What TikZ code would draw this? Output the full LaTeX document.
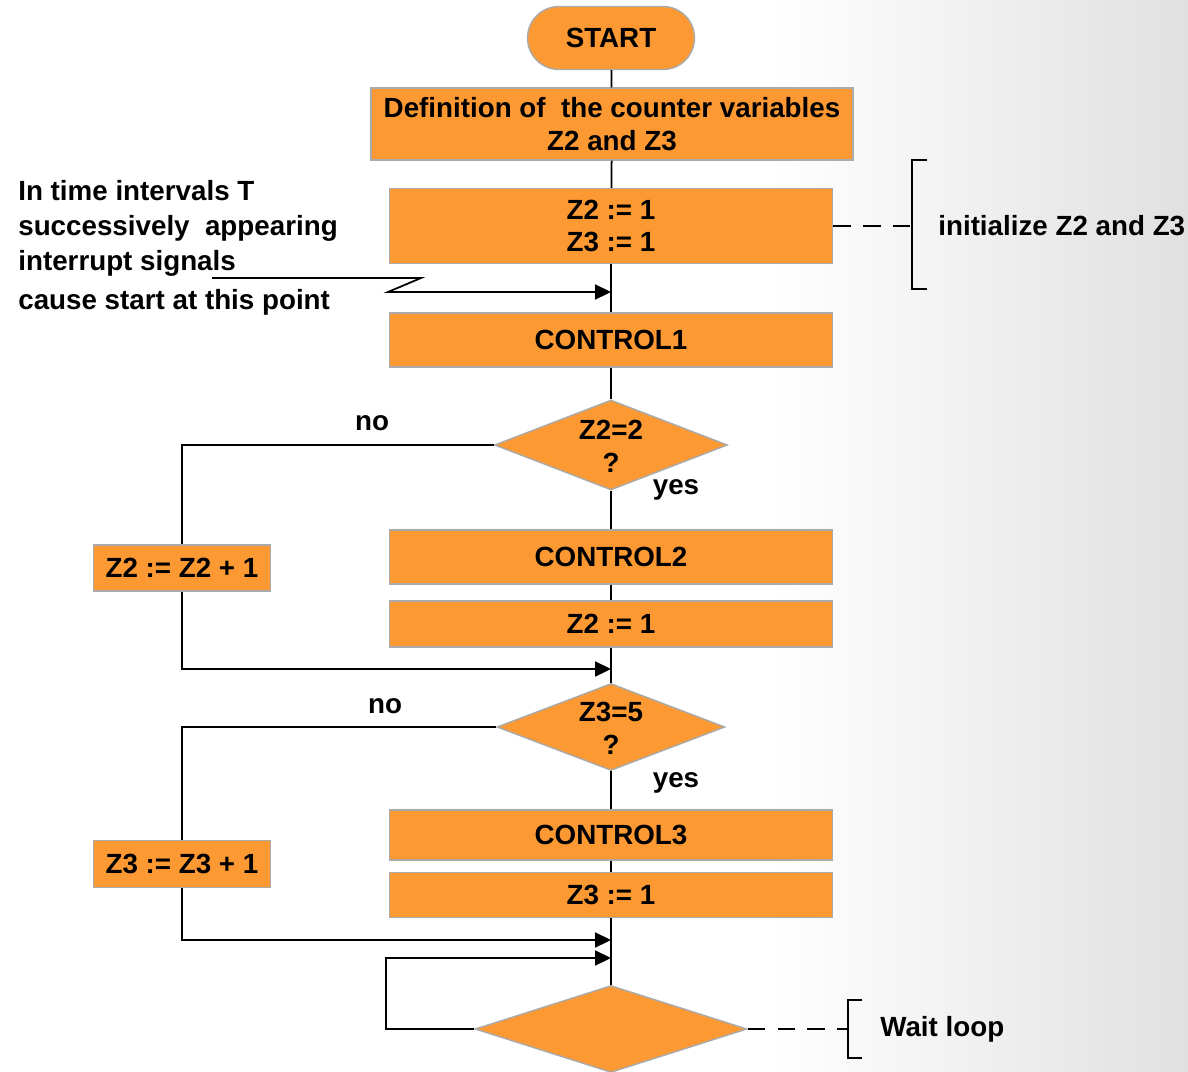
\documentclass[tikz,border=0pt]{standalone}
\usepackage{fontspec}
\setmainfont{Liberation Sans}
\usetikzlibrary{shapes.geometric,arrows.meta}
\definecolor{boxorange}{RGB}{253,153,51}
\definecolor{boxedge}{RGB}{170,170,170}
\tikzset{
  box/.style={draw=boxedge, fill=boxorange, line width=0.8pt, inner sep=0pt,
    align=center, minimum width=8.86cm},
  sidebox/.style={box, minimum width=3.54cm, minimum height=0.92cm},
  decision/.style={diamond, draw=boxedge, fill=boxorange, line width=0.8pt,
    inner sep=0pt, align=center, shape aspect=2.6},
  label/.style={inner sep=0pt},
  flow/.style={line width=1pt},
  merge/.style={flow, -{Triangle[length=9pt,width=8.5pt]}},
  hint/.style={line width=1pt, dash pattern=on 10pt off 7pt},
}
\begin{document}
\begin{tikzpicture}[x=0.02cm, y=-0.02cm,
    font=\fontsize{15.8}{18.7}\selectfont\bfseries]
  \useasboundingbox (0,0) rectangle (1188,1072);
  % background
  \fill[white] (0,0) rectangle (1188,1072);
  \shade[left color=white, right color=black!12] (770,0) rectangle (1188,1072);
  % main column
  \node[box, rounded corners=0.63cm, minimum width=3.34cm, minimum height=1.26cm] (start) at (611,38) {START};
  \node[box, minimum width=9.64cm, minimum height=1.44cm] (def) at (612,124) {Definition of\ \ the counter variables\\Z2 and Z3};
  \node[box, minimum height=1.5cm] (init) at (611,226) {Z2 := 1\\Z3 := 1};
  \node[box, minimum height=1.08cm] (ctrl1) at (611,340) {CONTROL1};
  \node[decision, minimum width=4.66cm, minimum height=1.8cm] (testa) at (611,445) {\\[-6pt]Z2=2\\?};
  \node[box, minimum height=1.08cm] (ctrl2) at (611,557) {CONTROL2};
  \node[box, minimum height=0.92cm] (resa) at (611,624) {Z2 := 1};
  \node[decision, minimum width=4.56cm, minimum height=1.74cm] (testb) at (611,727) {\\[-6pt]Z3=5\\?};
  \node[box, minimum height=1.0cm] (ctrl3) at (611,835) {CONTROL3};
  \node[box, minimum height=0.9cm] (resb) at (611,895) {Z3 := 1};
  \node[decision, minimum width=5.44cm, minimum height=1.74cm] (wait) at (611,1029) {};
  % side boxes
  \node[sidebox] (inca) at (182,568) {Z2 := Z2 + 1};
  \node[sidebox, minimum height=0.94cm] (incb) at (182,864) {Z3 := Z3 + 1};
  % labels
  \node[label] (noa) at (372,423) {no};
  \node[label] (yesa) at (676,490) {yes};
  \node[label] (nob) at (385,706) {no};
  \node[label] (yesb) at (676,783) {yes};
  \node[label, anchor=north west, align=left] (irqtext) at (18,180)
    {In time intervals T\\[1.3pt]successively\ \ appearing\\[1.3pt]interrupt signals\\[3.5pt]cause start at this point};
  \node[label, anchor=west] (inittext) at (938,226) {initialize Z2 and Z3};
  \node[label, anchor=west] (waittext) at (880,1029) {Wait loop};
  % merge points
  \coordinate (irq) at (611,292);
  \coordinate (ma) at (611,669);
  \coordinate (mb) at (611,940);
  \coordinate (mc) at (611,958);
  % connectors
  \draw[flow] (start) -- (def);
  \draw[flow] (def) -- (init);
  \draw[flow] (init) -- (ctrl1);
  \draw[flow] (ctrl1) -- (testa);
  \draw[flow] (testa) -- (ctrl2);
  \draw[flow] (ctrl2) -- (resa);
  \draw[flow] (resa) -- (testb);
  \draw[flow] (testb) -- (ctrl3);
  \draw[flow] (ctrl3) -- (resb);
  \draw[flow] (resb) -- (wait);
  % no branches
  \draw[flow] (testa.west) -| (inca.north);
  \draw[merge] (inca.south) |- (ma);
  \draw[flow] (testb.west) -| (incb.north);
  \draw[merge] (incb.south) |- (mb);
  % wait loop
  \coordinate (loop) at (386,1029);
  \draw[merge] (wait.west) -- (loop) |- (mc);
  % interrupt entry
  \coordinate (irqa) at (212,278);
  \coordinate (irqb) at (421,278);
  \coordinate (irqc) at (388,292);
  \draw[merge] (irqa) -- (irqb) -- (irqc) -- (irq);
  % brackets
  \coordinate (inittick) at (912,226);
  \draw[hint] (init.east) -- (inittick);
  \draw[line width=1pt] (927,160) -- (912,160) -- (912,289) -- (927,289);
  \coordinate (waittick) at (848,1029);
  \draw[hint] (wait.east) -- (waittick);
  \draw[line width=1pt] (862,1000) -- (848,1000) -- (848,1058) -- (862,1058);
\end{tikzpicture}
\end{document}
